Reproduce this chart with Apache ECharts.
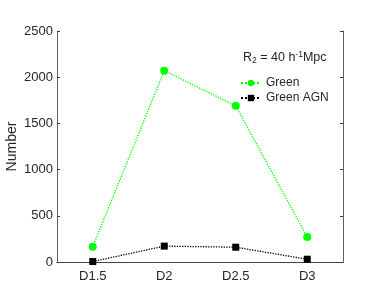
<!DOCTYPE html>
<html><head><meta charset="utf-8">
<script src="https://cdn.jsdelivr.net/npm/echarts@6/dist/echarts.min.js"></script>
<style>html,body{margin:0;padding:0;background:#fff}#c{width:382px;height:305px}</style>
</head><body><div id="c"></div>
<script>
var categories = ['D1.5', 'D2', 'D2.5', 'D3'];
var greenValues = [165, 2070, 1690, 270];
var agnValues = [5, 172, 160, 30];
var yTicks = [0, 500, 1000, 1500, 2000, 2500];
var seriesNames = ['Green', 'Green AGN'];

var txt = '#262626', axisCol = '#3a3a3a';
var font = 'Liberation Sans, Arial, sans-serif';
var chart = echarts.init(document.getElementById('c'), null, {renderer: 'canvas'});
chart.setOption({
  animation: false,
  backgroundColor: '#fff',
  grid: {left: 57, right: 39, top: 31, bottom: 43, containLabel: false, outerBoundsMode: 'none'},
  xAxis: [{
    type: 'category', data: categories, boundaryGap: true,
    axisLine: {lineStyle: {color: axisCol, width: 0.8}},
    axisTick: {inside: true, alignWithLabel: true, length: 3, lineStyle: {color: axisCol}},
    axisLabel: {color: txt, fontSize: 13, fontFamily: font, margin: 8},
    splitLine: {show: false}
  }, {
    type: 'category', data: categories, boundaryGap: true, position: 'top',
    axisLine: {lineStyle: {color: axisCol, width: 0.8}},
    axisTick: {inside: true, alignWithLabel: true, length: 3, lineStyle: {color: axisCol}},
    axisLabel: {show: false}
  }],
  yAxis: [{
    type: 'value', min: yTicks[0], max: yTicks[yTicks.length - 1], interval: 500,
    name: 'Number', nameLocation: 'middle', nameGap: 38, nameMoveOverlap: false,
    nameTextStyle: {color: txt, fontSize: 14, fontFamily: font},
    axisLine: {show: true, lineStyle: {color: axisCol, width: 0.8}},
    axisTick: {show: true, inside: true, length: 3, lineStyle: {color: axisCol}},
    axisLabel: {color: txt, fontSize: 13, fontFamily: font, margin: 4, formatter: function (v) { return String(v); }},
    splitLine: {show: false}
  }, {
    type: 'value', min: yTicks[0], max: yTicks[yTicks.length - 1], interval: 500, position: 'right',
    axisLine: {show: true, lineStyle: {color: axisCol, width: 0.8}},
    axisTick: {show: true, inside: true, length: 3, lineStyle: {color: axisCol}},
    axisLabel: {show: false},
    splitLine: {show: false}
  }],
  legend: {
    data: seriesNames, orient: 'vertical', left: 235, top: 72, itemGap: 3,
    itemWidth: 20, itemHeight: 8,
    textStyle: {color: txt, fontSize: 12, fontFamily: font}
  },
  graphic: [{
    type: 'text', left: 243, top: 50,
    style: {
      rich: {
        n: {fontSize: 12.5, fontFamily: font, fill: txt},
        sub: {fontSize: 8.5, fontFamily: font, fill: txt, verticalAlign: 'bottom', padding: [6, 0, 0, 0]},
        sup: {fontSize: 8.5, fontFamily: font, fill: txt, verticalAlign: 'top', padding: [0, 0, 6, 0]}
      },
      text: '{n|R}{sub|2}{n| = 40 h}{sup|-1}{n|Mpc}'
    }
  }],
  series: [{
    name: seriesNames[0], type: 'line', data: greenValues,
    symbol: 'circle', symbolSize: 8,
    itemStyle: {color: '#00ff00'},
    lineStyle: {color: '#00ff00', type: 'dotted', width: 1.3}
  }, {
    name: seriesNames[1], type: 'line', data: agnValues,
    symbol: 'rect', symbolSize: 7,
    itemStyle: {color: '#000'},
    lineStyle: {color: '#000', type: 'dotted', width: 1.3}
  }]
});
</script></body></html>
